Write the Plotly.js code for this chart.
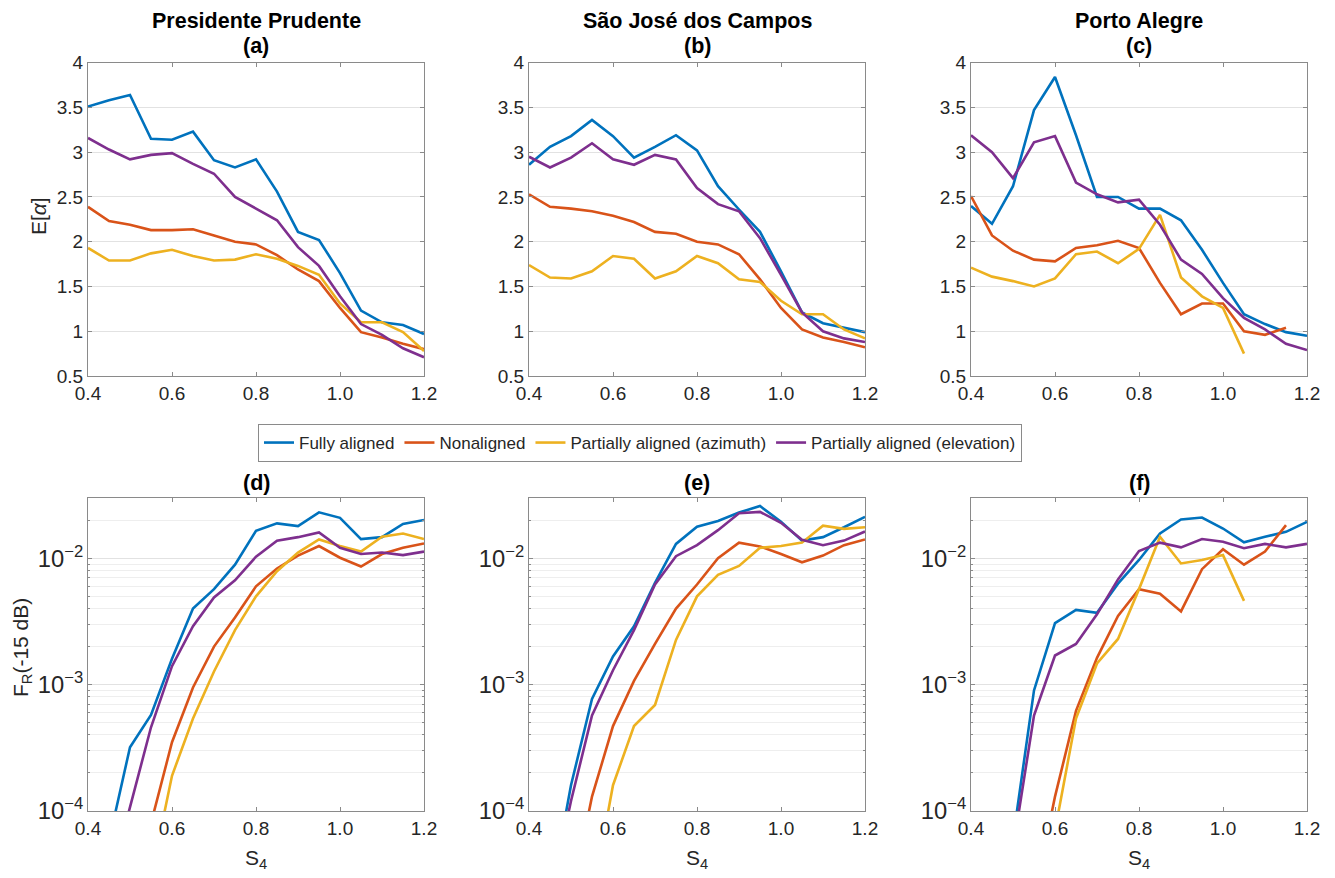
<!DOCTYPE html>
<html>
<head>
<meta charset="utf-8">
<script src="https://cdn.plot.ly/plotly-3.0.1.min.js"></script>
<style>
  html, body { margin: 0; padding: 0; background: #fff; }
  #chart { width: 1335px; height: 878px; }
</style>
</head>
<body>
<div id="chart"></div>
<script>
// S4 scintillation index bins
const s4 = [0.4, 0.45, 0.5, 0.55, 0.6, 0.65, 0.7, 0.75, 0.8, 0.85, 0.9, 0.95, 1.0, 1.05, 1.1, 1.15, 1.2];

const seriesNames = ['Fully aligned', 'Nonaligned', 'Partially aligned (azimuth)', 'Partially aligned (elevation)'];
const seriesColors = ['#0072BD', '#D95319', '#EDB120', '#7E2F8E'];

const stations = ['Presidente Prudente', 'São José dos Campos', 'Porto Alegre'];
const topLetters = ['(a)', '(b)', '(c)'];
const bottomLetters = ['(d)', '(e)', '(f)'];

// E[alpha] — Presidente Prudente
const eaFullyPP = [3.51, 3.58, 3.64, 3.15, 3.14, 3.23, 2.91, 2.83, 2.92, 2.56, 2.11, 2.02, 1.65, 1.23, 1.10, 1.07, 0.97];
const eaNonPP   = [2.39, 2.23, 2.19, 2.13, 2.13, 2.14, 2.07, 2.00, 1.97, 1.85, 1.69, 1.56, 1.26, 0.99, 0.93, 0.86, 0.80];
const eaAzPP    = [1.93, 1.79, 1.79, 1.87, 1.91, 1.84, 1.79, 1.80, 1.86, 1.81, 1.73, 1.63, 1.31, 1.10, 1.10, 0.99, 0.78];
const eaElPP    = [3.16, 3.03, 2.92, 2.97, 2.99, 2.87, 2.76, 2.50, 2.37, 2.24, 1.94, 1.73, 1.39, 1.08, 0.96, 0.81, 0.71];

// E[alpha] — São José dos Campos
const eaFullySJ = [2.86, 3.06, 3.18, 3.36, 3.18, 2.94, 3.06, 3.19, 3.02, 2.62, 2.36, 2.11, 1.67, 1.21, 1.09, 1.04, 0.99];
const eaNonSJ   = [2.53, 2.39, 2.37, 2.34, 2.29, 2.22, 2.11, 2.09, 2.00, 1.97, 1.86, 1.58, 1.26, 1.02, 0.93, 0.88, 0.82];
const eaAzSJ    = [1.74, 1.60, 1.59, 1.67, 1.84, 1.81, 1.59, 1.67, 1.84, 1.76, 1.58, 1.55, 1.34, 1.19, 1.19, 1.02, 0.92];
const eaElSJ    = [2.95, 2.83, 2.94, 3.10, 2.92, 2.86, 2.97, 2.92, 2.60, 2.42, 2.34, 2.04, 1.63, 1.21, 1.00, 0.92, 0.88];

// E[alpha] — Porto Alegre
const eaFullyPA = [2.40, 2.20, 2.62, 3.47, 3.84, 3.19, 2.50, 2.50, 2.37, 2.37, 2.24, 1.91, 1.54, 1.19, 1.08, 0.99, 0.95];
const eaNonPA   = [2.51, 2.07, 1.90, 1.80, 1.78, 1.93, 1.96, 2.01, 1.93, 1.54, 1.19, 1.31, 1.31, 1.00, 0.96, 1.04, null];
const eaAzPA    = [1.71, 1.61, 1.56, 1.50, 1.59, 1.86, 1.89, 1.76, 1.92, 2.30, 1.60, 1.39, 1.26, 0.75, null, null, null];
const eaElPA    = [3.19, 3.00, 2.71, 3.11, 3.18, 2.66, 2.53, 2.44, 2.47, 2.19, 1.80, 1.64, 1.37, 1.15, 1.02, 0.86, 0.79];

// F_R(-15 dB) — Presidente Prudente
const frFullyPP = [null, 5.8e-5, 3.2e-4, 5.75e-4, 1.6e-3, 4.0e-3, 5.7e-3, 8.9e-3, 0.0165, 0.0189, 0.0180, 0.0231, 0.0209, 0.0142, 0.0147, 0.0187, 0.0201];
const frNonPP   = [null, null, null, 8e-5, 3.5e-4, 9.5e-4, 2.0e-3, 3.4e-3, 6.0e-3, 8.3e-3, 0.0105, 0.0125, 0.0101, 0.0086, 0.0108, 0.0121, 0.0131];
const frAzPP    = [null, null, null, 3e-5, 1.9e-4, 5.4e-4, 1.27e-3, 2.7e-3, 5.0e-3, 7.9e-3, 0.0111, 0.0141, 0.0125, 0.0113, 0.0148, 0.0157, 0.0142];
const frElPP    = [null, 2.5e-5, 1.1e-4, 4.6e-4, 1.4e-3, 2.9e-3, 4.9e-3, 6.7e-3, 0.0103, 0.0138, 0.0147, 0.0160, 0.0121, 0.0108, 0.0111, 0.0106, 0.0113];

// F_R(-15 dB) — São José dos Campos
const frFullySJ = [null, 2e-5, 1.6e-4, 7.7e-4, 1.67e-3, 2.9e-3, 6.4e-3, 0.0130, 0.0178, 0.0197, 0.0230, 0.0259, 0.0195, 0.0138, 0.0147, 0.0176, 0.0213];
const frNonSJ   = [null, null, 2e-5, 1.3e-4, 4.7e-4, 1.07e-3, 2.1e-3, 4.0e-3, 6.2e-3, 0.0100, 0.0133, 0.0124, 0.0108, 0.0093, 0.0105, 0.0127, 0.0141];
const frAzSJ    = [null, null, null, 2e-5, 1.6e-4, 4.7e-4, 6.9e-4, 2.26e-3, 5.0e-3, 7.4e-3, 8.7e-3, 0.0121, 0.0125, 0.0133, 0.0181, 0.0171, 0.0176];
const frElSJ    = [null, 2e-5, 1.2e-4, 5.7e-4, 1.3e-3, 2.7e-3, 6.2e-3, 0.0104, 0.0127, 0.0167, 0.0227, 0.0233, 0.0191, 0.0140, 0.0127, 0.0138, 0.0163];

// F_R(-15 dB) — Porto Alegre
const frFullyPA = [null, null, 6e-5, 9.0e-4, 3.07e-3, 3.9e-3, 3.7e-3, 6.3e-3, 9.7e-3, 0.0157, 0.0203, 0.0210, 0.0172, 0.0134, 0.0148, 0.0162, 0.0194];
const frNonPA   = [null, null, null, 2e-5, 1.3e-4, 6.2e-4, 1.63e-3, 3.5e-3, 5.7e-3, 5.25e-3, 3.8e-3, 8.2e-3, 0.0118, 0.0089, 0.0113, 0.0183, null];
const frAzPA    = [null, null, null, null, 7e-5, 5.4e-4, 1.47e-3, 2.3e-3, 5.7e-3, 0.0148, 9.1e-3, 9.7e-3, 0.0106, 4.6e-3, null, null, null];
const frElPA    = [null, null, 5e-5, 5.7e-4, 1.7e-3, 2.1e-3, 3.6e-3, 6.8e-3, 0.0114, 0.0133, 0.0122, 0.0142, 0.0135, 0.0120, 0.0130, 0.0122, 0.0130];

const xTicks = [0.4, 0.6, 0.8, 1.0, 1.2];
const eaTicks = [0.5, 1, 1.5, 2, 2.5, 3, 3.5, 4];

const panels = [
  [eaFullyPP, eaNonPP, eaAzPP, eaElPP],
  [eaFullySJ, eaNonSJ, eaAzSJ, eaElSJ],
  [eaFullyPA, eaNonPA, eaAzPA, eaElPA],
  [frFullyPP, frNonPP, frAzPP, frElPP],
  [frFullySJ, frNonSJ, frAzSJ, frElSJ],
  [frFullyPA, frNonPA, frAzPA, frElPA]
];

// ---- page geometry (pixels) ----
const W = 1335, H = 878;
const colLeft = [88, 529, 971];
const colWidth = 336;
const topRow = [62.7, 376];
const botRow = [498, 811];
const px = v => v / W;
const py = v => 1 - v / H;

const FONT = 'Liberation Sans, Arial, Helvetica, sans-serif';
const TXT = '#262626';
const FRAME = '#8a8a8a';
const TICK_SIZE = 19;
const TITLE_SIZE = 21.5;

const traces = [];
panels.forEach((series, p) => {
  const ax = p + 1;
  series.forEach((vals, s) => {
    traces.push({
      type: 'scatter', mode: 'lines',
      x: s4, y: vals,
      xaxis: 'x' + ax, yaxis: 'y' + ax,
      name: seriesNames[s], legendgroup: seriesNames[s],
      showlegend: p === 0,
      line: { color: seriesColors[s], width: 2.6 },
      connectgaps: false,
      hoverinfo: 'x+y+name'
    });
  });
});

const layout = {
  width: W, height: H,
  margin: { l: 0, r: 0, t: 0, b: 0 },
  paper_bgcolor: '#fff', plot_bgcolor: '#fff',
  font: { family: FONT, size: 18, color: TXT },
  showlegend: true,
  legend: {
    orientation: 'h',
    x: px(640), xanchor: 'center',
    y: py(424), yanchor: 'top',
    bordercolor: FRAME, borderwidth: 1, bgcolor: '#fff',
    font: { family: FONT, size: 17, color: TXT },
    itemwidth: 30, tracegroupgap: 0,
    traceorder: 'normal'
  },
  annotations: [],
  shapes: []
};

for (let p = 0; p < 6; p++) {
  const ax = p + 1;
  const col = p % 3;
  const isTop = p < 3;
  const rowPx = isTop ? topRow : botRow;
  const xKey = 'xaxis' + (ax === 1 ? '' : ax);
  const yKey = 'yaxis' + (ax === 1 ? '' : ax);
  layout[xKey] = {
    domain: [px(colLeft[col]), px(colLeft[col] + colWidth)],
    anchor: 'y' + ax,
    range: [0.4, 1.2],
    tickvals: xTicks, tickformat: '.1f',
    ticks: 'inside', ticklen: 4, tickcolor: FRAME,
    showline: true, linecolor: FRAME, linewidth: 1, mirror: 'ticks',
    showgrid: false, zeroline: false,
    tickfont: { family: FONT, size: TICK_SIZE, color: TXT },
    fixedrange: true
  };
  const yBase = {
    domain: [py(rowPx[1]), py(rowPx[0])],
    anchor: 'x' + ax,
    ticks: 'inside', ticklen: 4, tickcolor: FRAME,
    showline: true, linecolor: FRAME, linewidth: 1, mirror: 'ticks',
    showgrid: true, gridcolor: '#e2e2e2', gridwidth: 1,
    zeroline: false,
    tickfont: { family: FONT, size: TICK_SIZE, color: TXT },
    fixedrange: true
  };
  if (isTop) {
    layout[yKey] = Object.assign(yBase, {
      range: [0.5, 4], tickvals: eaTicks
    });
  } else {
    layout[yKey] = Object.assign(yBase, {
      type: 'log', range: [-4, Math.log10(0.03)], dtick: 1,
      exponentformat: 'power', showexponent: 'all',
      minor: { dtick: 'D1', showgrid: true, gridcolor: '#eeeeee', gridwidth: 1,
               ticks: 'inside', ticklen: 2, tickcolor: FRAME }
    });
  }

  const cx = px(colLeft[col] + colWidth / 2);
  if (isTop) {
    layout.annotations.push({
      xref: 'paper', yref: 'paper', x: cx, y: py(21), xanchor: 'center', yanchor: 'middle',
      text: '<b>' + stations[col] + '</b>', showarrow: false,
      font: { family: FONT, size: TITLE_SIZE, color: '#000' }
    });
    layout.annotations.push({
      xref: 'paper', yref: 'paper', x: cx, y: py(46), xanchor: 'center', yanchor: 'middle',
      text: '<b>' + topLetters[col] + '</b>', showarrow: false,
      font: { family: FONT, size: TITLE_SIZE, color: '#000' }
    });
  } else {
    layout.annotations.push({
      xref: 'paper', yref: 'paper', x: cx, y: py(483), xanchor: 'center', yanchor: 'middle',
      text: '<b>' + bottomLetters[col] + '</b>', showarrow: false,
      font: { family: FONT, size: TITLE_SIZE, color: '#000' }
    });
    layout.annotations.push({
      xref: 'paper', yref: 'paper', x: cx, y: py(859), xanchor: 'center', yanchor: 'middle',
      text: 'S<sub>4</sub>', showarrow: false,
      font: { family: FONT, size: 21, color: TXT }
    });
  }
}

// y-axis titles on the left column
layout.annotations.push({
  xref: 'paper', yref: 'paper', x: px(39), y: py(216), xanchor: 'center', yanchor: 'middle',
  text: 'E[<i>α</i>]', textangle: -90, showarrow: false,
  font: { family: FONT, size: 21, color: TXT }
});
layout.annotations.push({
  xref: 'paper', yref: 'paper', x: px(22), y: py(648), xanchor: 'center', yanchor: 'middle',
  text: 'F<sub>R</sub>(-15 dB)', textangle: -90, showarrow: false,
  font: { family: FONT, size: 21, color: TXT }
});

Plotly.newPlot('chart', traces, layout, { displayModeBar: false, staticPlot: true });
</script>
</body>
</html>
